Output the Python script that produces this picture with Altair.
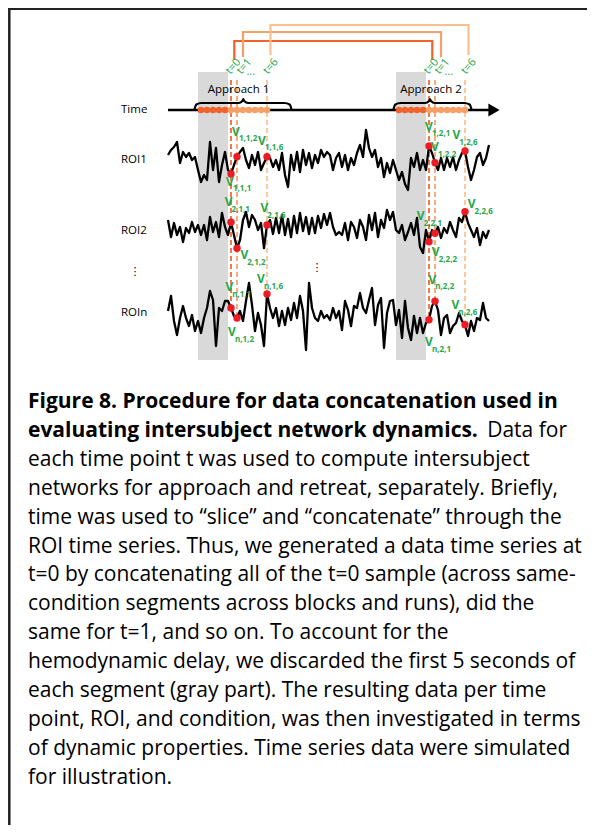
import altair as alt
import pandas as pd

# ---------------- data ----------------
DT = 0.5  # sampling step of the simulated series (s)
ROI_NAMES = ["ROI1", "ROI2", "ROIn"]
ROI_KEYS = ["1", "2", "n"]

ROI1 = [5, 10, 13, 18, -3, 8, 3, 7, 0, 3,
        -10, -22, -15, -20, 18, -10, 12, -22, -5, 8,
        -10, -14, -5, 3.3, 8, 12, 0, -8, 5, -5,
        8, -10, -3, 3.3, 2, -7, 0, -10, 7, -15,
        -27, 5, -10, 8, -12, 10, -5, 7, -8, 5,
        -3, 10, 3, 8, 5,
        -10, 2, 7, -7, 5, -10, 2, -5, 7, 15,
        3, 30, 12, 3, 10, -7, 2, -17, -3, -13,
        0, -10, -20, -12, -24, -30, 2, -7, 7, -10,
        0, -10, 14, 7, -2.7, -10, 2, -10, 2, -7,
        3, -10, 0, 7, 9, -7, -20, -10, 3, 7,
        -5, 2, 15]

ROI2 = [11, -6, 8, -4, 4, -11, 3, -2, 9, -1,
        6, -4, 6, -9, 14, -1, 9, -6, 18, 4,
        -4, 8.7, -4, -17.3, -9, 11, 19, 4, 16, 11,
        1, 8, -17, 6,
        11, -3, 13, -2, 16, -4, 12, -6, 15, -2,
        18, 0, 14, -3, 13, -2, 15, 3, 17, 6, 18,
        4, -4, -1, -4, 8, -9, 9, 4, -7, 11,
        4, -9, 16, 1, 18, -6, 11, 3, 21, 11,
        19, 1, -2, 6, -9, -1, 8, -4, 13, -16,
        -22, 1, -10.7, 1, -2.3, 4, -7, 3, -2, 9,
        1, -6, 13, 9, 19.3, 8, 1, -6, 3, -14,
        -1, -7, 1]

ROIN = [2, 17, -8, -22, -5, 7, -5, -13, -2, -18,
        -8, -20, -5, 5, 22, 13, -33, 5, 2, 12,
        12, 5, -3, -5, 2, -8, 12, 30, 8, -18,
        0, -12, -33, 19, 5, -5, 5, -13, 2, -12,
        5, -7, 10, -5, 17, 2, -37, 30, 5, -5,
        -8, 2, -5, -2, -7,
        5, -5, 2, -17, 12, 3, -13, 7, 5, 20,
        5, 0, 13, 25, -12, 8, 15, -35, 0, 12,
        13, -12, 3, -25, 12, -15, -27, -3, -20, -5,
        -20, -10, -6.7, 7, 11.7, 3, -22, -5, -2, -20,
        -13, -10, 0, -8, -11.7, -23, -8, -18, -5, -7,
        10, -5, -8]

SERIES = [ROI1, ROI2, ROIN]
SEGMENT_ONSETS = [5, 38]          # onset of each Approach segment (s)
DISCARD = 5                       # discarded seconds (hemodynamic delay)
N_KEPT = 7                        # kept samples shown as red dots
T_SHOWN = [0, 1, 6]
T_SUB = ["1", "2", "6"]
SEGMENT_LABELS = ["Approach 1", "Approach 2"]
T_COLORS = ["#f1622b", "#f5a068", "#f9c08e"]

CAPTION_BOLD = ["Figure 8. Procedure for data concatenation used in",
                "evaluating intersubject network dynamics."]
CAPTION_LINE2_TAIL = "Data for"
CAPTION_REGULAR = [
    "each time point t was used to compute intersubject",
    "networks for approach and retreat, separately. Briefly,",
    "time was used to \u201cslice\u201d and \u201cconcatenate\u201d through the",
    "ROI time series. Thus, we generated a data time series at",
    "t=0 by concatenating all of the t=0 sample (across same-",
    "condition segments across blocks and runs), did the",
    "same for t=1, and so on. To account for the",
    "hemodynamic delay, we discarded the first 5 seconds of",
    "each segment (gray part). The resulting data per time",
    "point, ROI, and condition, was then investigated in terms",
    "of dynamic properties. Time series data were simulated",
    "for illustration.",
]

# ---------------- layout (page pixels) ----------------
PX = 6.0            # px per second
X0 = 168.0          # page x of time 0
W, H = 579, 817
def u_of(px):
    return (px - X0) / PX
XMIN, XMAX = u_of(8), u_of(8 + W)
ROW_Y = [160, 231, 313]
TIME_Y = 110
GRAY_Y = (72, 360)
GREEN = "#27a74a"
DIAG_FONT = "Open Sans"
CAP_FONT = "Open Sans"
CAP_SIZE = 21
CAP_Y0, CAP_DY = 408, 28.9
CAP_X = 28

xs = alt.Scale(domain=[XMIN, XMAX], nice=False, zero=False)
ys = alt.Scale(domain=[8, 8 + H], reverse=True, nice=False, zero=False)
def X(f):
    return alt.X(f, type="quantitative", scale=xs, axis=None)
def Y(f):
    return alt.Y(f, type="quantitative", scale=ys, axis=None)

def tp(a, t):
    return SEGMENT_ONSETS[a] + DISCARD + t + 0.5

# series
rows = []
for k, s in enumerate(SERIES):
    for i, v in enumerate(s):
        rows.append({"roi": ROI_NAMES[k], "u": i * DT, "y": ROW_Y[k] - v})
series_df = pd.DataFrame(rows)

# dots + labels on series
V_OFF = {
    (0, 0, 0): (-1, 7.7), (0, 0, 1): (-1, -25), (0, 0, 2): (-5, -16),
    (0, 1, 0): (0, -19.3), (0, 1, 1): (0, -15.5), (0, 1, 2): (-8.7, -16),
    (1, 0, 0): (-2.4, -20.3), (1, 0, 1): (7.3, 7), (1, 0, 2): (-2.7, -17),
    (1, 1, 0): (-8.3, -25.7), (1, 1, 1): (0.7, 18.7), (1, 1, 2): (6.6, -7.3),
    (2, 0, 0): (-1.7, -21), (2, 0, 1): (-5, 14.4), (2, 0, 2): (-6, -14.8),
    (2, 1, 0): (0, 22.4), (2, 1, 1): (-2.7, -21.7), (2, 1, 2): (-9.7, -19.3),
}
drows = []
for k, s in enumerate(SERIES):
    for a in range(2):
        for j, t in enumerate(T_SHOWN):
            u = tp(a, t)
            y = ROW_Y[k] - s[int(round(u / DT))]
            dx, dy = V_OFF[(k, a, j)]
            drows.append({"u": u, "y": y, "t": str(t),
                          "vu": u + dx / PX, "vy": y + dy,
                          "su": u + (dx + 3) / PX, "sy": y + dy + 7.5,
                          "sub": f"{ROI_KEYS[k]},{a + 1},{T_SUB[j]}"})
dots_df = pd.DataFrame(drows)

# dashed guides (from above the time axis down to ROIn dot)
grows = []
for a in range(2):
    for t in T_SHOWN:
        u = tp(a, t)
        yb = ROW_Y[2] - ROIN[int(round(u / DT))]
        grows.append({"u": u, "y0": 80, "y1": yb + 2, "t": str(t)})
guides_df = pd.DataFrame(grows)

# top connectors
C_OFF = [0.55, 1.0, 0.58]
C_TOP = [41, 32, 25]
C_BOT = [60, 57, 55]
crows = []
for j, t in enumerate(T_SHOWN):
    l, r = tp(0, t) + C_OFF[j], tp(1, t) + C_OFF[j]
    for o, (uu, yy) in enumerate([(l, C_BOT[j]), (l, C_TOP[j]), (r, C_TOP[j]), (r, C_BOT[j])]):
        crows.append({"t": str(t), "o": o, "u": uu, "y": yy})
conn_df = pd.DataFrame(crows)

# t labels
T_LOFF = [0.42, 1.25, 0.65]
trows = []
for a in range(2):
    for j, t in enumerate(T_SHOWN):
        trows.append({"u": tp(a, t) + T_LOFF[j], "y": 66.5, "txt": f"t={t}"})
tlab_df = pd.DataFrame(trows)
ell_df = pd.DataFrame({"u": [tp(a, 1) + 2.3 for a in range(2)], "y": [72, 72]})

# time-axis dots
arows = []
for a in range(2):
    for k in range(DISCARD):
        arows.append({"u": SEGMENT_ONSETS[a] + k + 0.5, "kind": "discard"})
    for k in range(N_KEPT):
        arows.append({"u": tp(a, k), "kind": "kept"})
axis_dots_df = pd.DataFrame(arows)
axis_dots_df["y"] = TIME_Y

# gray (discarded) regions
seg_df = pd.DataFrame({"u0": SEGMENT_ONSETS,
                       "u1": [o + DISCARD for o in SEGMENT_ONSETS],
                       "y0": GRAY_Y[0], "y1": GRAY_Y[1]})

# braces
BRACE = [(u_of(194.3), u_of(243.3), u_of(291.7)), (u_of(393.3), u_of(430), u_of(471.7))]
brows = []
for a, (L, C, R) in enumerate(BRACE):
    pts = [(L, 110), (L + 0.35, 104.5), (L + 1.2, 103), (C - 0.8, 103), (C - 0.15, 101),
           (C, 99), (C + 0.15, 101), (C + 0.8, 103), (R - 1.2, 103), (R - 0.35, 104.5), (R, 110)]
    for o, (uu, yy) in enumerate(pts):
        brows.append({"seg": a, "o": o, "u": uu, "y": yy})
brace_df = pd.DataFrame(brows)
seg_lab_df = pd.DataFrame({"u": [u_of(238.5), u_of(431)], "y": [90, 90], "txt": SEGMENT_LABELS})

# left labels
left_df = pd.DataFrame({"u": u_of(121), "y": [TIME_Y] + ROW_Y, "txt": ["Time"] + ROI_NAMES})
vdots_df = pd.DataFrame({"u": [u_of(135), u_of(317)], "y": [272, 268]})

# caption
cap_bold_df = pd.DataFrame({"u": u_of(CAP_X), "y": [CAP_Y0, CAP_Y0 + CAP_DY], "txt": CAPTION_BOLD})
cap_tail_df = pd.DataFrame({"u": [u_of(567)], "y": [CAP_Y0 + CAP_DY], "txt": [CAPTION_LINE2_TAIL]})
cap_reg_df = pd.DataFrame({"u": u_of(CAP_X),
                           "y": [CAP_Y0 + CAP_DY * (i + 2) for i in range(len(CAPTION_REGULAR))],
                           "txt": CAPTION_REGULAR})

tcolor = alt.Color("t:N", scale=alt.Scale(domain=[str(t) for t in T_SHOWN], range=T_COLORS), legend=None)

# ---------------- layers ----------------
one = pd.DataFrame({"k": [0]})
border_left = alt.Chart(one).mark_rule(color="#222222", strokeWidth=2.5).encode(
    x=alt.value(1.3), y=alt.value(0), y2=alt.value(H))
border_top = alt.Chart(one).mark_rule(color="#222222", strokeWidth=2).encode(
    x=alt.value(0), x2=alt.value(W), y=alt.value(1))

gray = alt.Chart(seg_df).mark_rect(color="#d9d9d9").encode(x=X("u0"), x2="u1", y=Y("y0"), y2="y1")

guides = alt.Chart(guides_df).mark_rule(strokeDash=[5, 3], strokeWidth=1.7).encode(
    x=X("u"), y=Y("y0"), y2="y1", color=tcolor)

conns = alt.Chart(conn_df).mark_line(strokeWidth=2.2).encode(
    x=X("u"), y=Y("y"), color=tcolor, order="o:Q", detail="t:N")

tlabs = alt.Chart(tlab_df).mark_text(font=DIAG_FONT, fontSize=11, color=GREEN, angle=310,
                                     align="center", baseline="middle").encode(
    x=X("u"), y=Y("y"), text="txt:N")
ells = alt.Chart(ell_df).mark_text(font=DIAG_FONT, fontSize=11, color=GREEN, text="...",
                                   align="center", baseline="middle").encode(x=X("u"), y=Y("y"))

time_line = alt.Chart(pd.DataFrame({"u0": [0.0], "u1": [u_of(492)], "y": [TIME_Y]})).mark_rule(
    color="black", strokeWidth=2.5).encode(x=X("u0"), x2="u1", y=Y("y"))
arrow = alt.Chart(pd.DataFrame({"u": [u_of(494)], "y": [TIME_Y]})).mark_point(
    shape="triangle-right", filled=True, size=170, color="black", opacity=1).encode(x=X("u"), y=Y("y"))

braces = alt.Chart(brace_df).mark_line(color="black", strokeWidth=2.2, interpolate="monotone").encode(
    x=X("u"), y=Y("y"), detail="seg:N", order="o:Q")
seg_labs = alt.Chart(seg_lab_df).mark_text(font=DIAG_FONT, fontSize=11.5, color="black").encode(
    x=X("u"), y=Y("y"), text="txt:N")

axis_dots = alt.Chart(axis_dots_df).mark_circle(size=42, opacity=1).encode(
    x=X("u"), y=Y("y"),
    color=alt.Color("kind:N", scale=alt.Scale(domain=["discard", "kept"], range=["#5b5b5b", "#e8232b"]),
                    legend=None))

lines = alt.Chart(series_df).mark_line(color="black", strokeWidth=2.3, strokeJoin="round").encode(
    x=X("u"), y=Y("y"), detail="roi:N", order="u:Q")

dots = alt.Chart(dots_df).mark_circle(size=55, color="#ec1c24", opacity=1).encode(x=X("u"), y=Y("y"))
vlab = alt.Chart(dots_df).mark_text(font=DIAG_FONT, fontSize=12, fontWeight="bold", color=GREEN,
                                    text="V", baseline="middle").encode(x=X("vu"), y=Y("vy"))
vsub = alt.Chart(dots_df).mark_text(font=DIAG_FONT, fontSize=8, fontWeight="bold", color=GREEN,
                                    align="left", baseline="middle").encode(
    x=X("su"), y=Y("sy"), text="sub:N")

left_labs = alt.Chart(left_df).mark_text(font=DIAG_FONT, fontSize=11.5, color="black",
                                         align="left", baseline="middle").encode(
    x=X("u"), y=Y("y"), text="txt:N")
vdots = alt.Chart(vdots_df).mark_text(font="DejaVu Sans", fontSize=11, color="black", text="\u22ee",
                                      baseline="middle").encode(x=X("u"), y=Y("y"))

cap_bold = alt.Chart(cap_bold_df).mark_text(font=CAP_FONT, fontSize=CAP_SIZE, fontWeight="bold",
                                            align="left", baseline="alphabetic", color="black").encode(
    x=X("u"), y=Y("y"), text="txt:N")
cap_tail = alt.Chart(cap_tail_df).mark_text(font=CAP_FONT, fontSize=CAP_SIZE, align="right",
                                            baseline="alphabetic", color="black").encode(
    x=X("u"), y=Y("y"), text="txt:N")
cap_reg = alt.Chart(cap_reg_df).mark_text(font=CAP_FONT, fontSize=CAP_SIZE, align="left",
                                          baseline="alphabetic", color="black").encode(
    x=X("u"), y=Y("y"), text="txt:N")

chart = alt.layer(
    border_left, border_top, gray, guides, conns, tlabs, ells, time_line, arrow, braces, seg_labs,
    axis_dots, lines, dots, vlab, vsub, left_labs, vdots, cap_bold, cap_tail, cap_reg
).properties(width=W, height=H, padding=0, autosize="none").configure_view(stroke=None)

chart.save("out.html", embed_options={"renderer": "svg", "actions": False})
